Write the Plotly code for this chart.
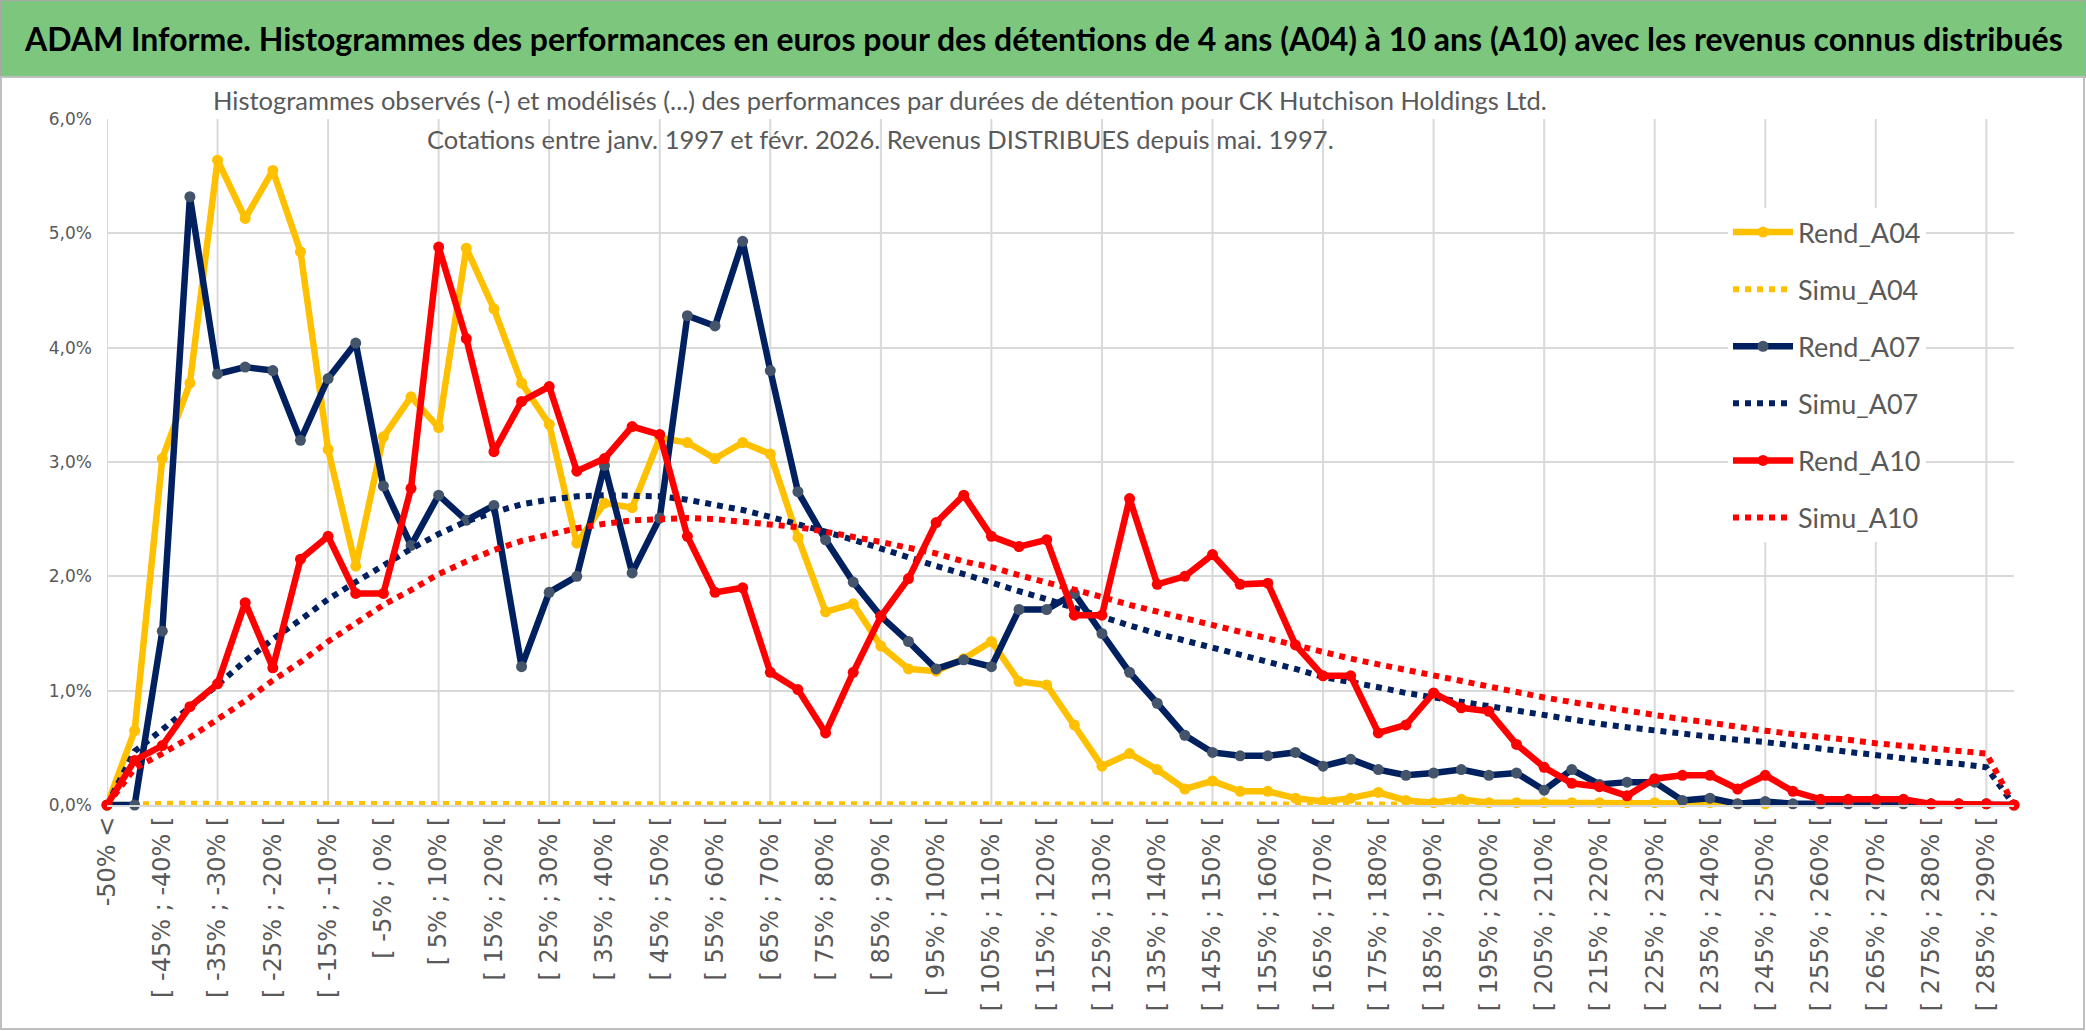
import plotly.graph_objects as go

categories = [
    "-50% <", "[ -50% ; -45% [", "[ -45% ; -40% [", "[ -40% ; -35% [", "[ -35% ; -30% [",
    "[ -30% ; -25% [", "[ -25% ; -20% [", "[ -20% ; -15% [", "[ -15% ; -10% [", "[ -10% ; -5% [",
    "[ -5% ; 0% [", "[ 0% ; 5% [", "[ 5% ; 10% [", "[ 10% ; 15% [", "[ 15% ; 20% [",
    "[ 20% ; 25% [", "[ 25% ; 30% [", "[ 30% ; 35% [", "[ 35% ; 40% [", "[ 40% ; 45% [",
    "[ 45% ; 50% [", "[ 50% ; 55% [", "[ 55% ; 60% [", "[ 60% ; 65% [", "[ 65% ; 70% [",
    "[ 70% ; 75% [", "[ 75% ; 80% [", "[ 80% ; 85% [", "[ 85% ; 90% [", "[ 90% ; 95% [",
    "[ 95% ; 100% [", "[ 100% ; 105% [", "[ 105% ; 110% [", "[ 110% ; 115% [", "[ 115% ; 120% [",
    "[ 120% ; 125% [", "[ 125% ; 130% [", "[ 130% ; 135% [", "[ 135% ; 140% [", "[ 140% ; 145% [",
    "[ 145% ; 150% [", "[ 150% ; 155% [", "[ 155% ; 160% [", "[ 160% ; 165% [", "[ 165% ; 170% [",
    "[ 170% ; 175% [", "[ 175% ; 180% [", "[ 180% ; 185% [", "[ 185% ; 190% [", "[ 190% ; 195% [",
    "[ 195% ; 200% [", "[ 200% ; 205% [", "[ 205% ; 210% [", "[ 210% ; 215% [", "[ 215% ; 220% [",
    "[ 220% ; 225% [", "[ 225% ; 230% [", "[ 230% ; 235% [", "[ 235% ; 240% [", "[ 240% ; 245% [",
    "[ 245% ; 250% [", "[ 250% ; 255% [", "[ 255% ; 260% [", "[ 260% ; 265% [", "[ 265% ; 270% [",
    "[ 270% ; 275% [", "[ 275% ; 280% [", "[ 280% ; 285% [", "[ 285% ; 290% [", "[ 290% ; 295% [",
]

rend_a04 = [0.00, 0.65, 3.03, 3.69, 5.64, 5.13, 5.55, 4.84, 3.11, 2.09,
            3.22, 3.57, 3.30, 4.87, 4.34, 3.69, 3.33, 2.29, 2.64, 2.60,
            3.21, 3.17, 3.03, 3.17, 3.07, 2.34, 1.69, 1.76, 1.39, 1.19,
            1.17, 1.28, 1.43, 1.08, 1.05, 0.70, 0.34, 0.45, 0.31, 0.14,
            0.21, 0.12, 0.12, 0.06, 0.03, 0.06, 0.11, 0.04, 0.02, 0.05,
            0.02, 0.02, 0.02, 0.02, 0.02, 0.02, 0.02, 0.02, 0.02, 0.01,
            0.01, None, None, None, None, None, None, None, None, None]

simu_a04 = [0.00, 0.01, 0.01, 0.01, 0.01, 0.01, 0.01, 0.01, 0.01, 0.01,
            0.01, 0.01, 0.01, 0.01, 0.01, 0.01, 0.01, 0.01, 0.01, 0.01,
            0.01, 0.01, 0.01, 0.01, 0.01, 0.01, 0.01, 0.01, 0.01, 0.01,
            0.01, 0.01, 0.01, 0.01, 0.01, 0.01, 0.01, 0.01, 0.01, 0.01,
            0.01, 0.01, 0.01, 0.01, 0.01, 0.01, 0.01, 0.01, 0.01, 0.01,
            0.01, 0.01, 0.01, 0.01, 0.01, 0.01, 0.01, 0.01, 0.01, 0.01,
            0.01, 0.01, 0.01, 0.01, 0.01, 0.01, 0.01, 0.01, 0.01, 0.00]

rend_a07 = [0.00, 0.00, 1.52, 5.32, 3.77, 3.83, 3.80, 3.19, 3.73, 4.04,
            2.79, 2.27, 2.71, 2.49, 2.62, 1.21, 1.86, 2.00, 2.97, 2.03,
            2.51, 4.28, 4.19, 4.93, 3.80, 2.74, 2.32, 1.95, 1.65, 1.43,
            1.19, 1.27, 1.21, 1.71, 1.71, 1.85, 1.50, 1.16, 0.89, 0.61,
            0.46, 0.43, 0.43, 0.46, 0.34, 0.40, 0.31, 0.26, 0.28, 0.31,
            0.26, 0.28, 0.13, 0.31, 0.18, 0.20, 0.20, 0.04, 0.06, 0.01,
            0.03, 0.01, 0.01, 0.01, 0.01, 0.01, 0.01, 0.01, 0.01, 0.00]

simu_a07 = [0.00, 0.47, 0.66, 0.85, 1.05, 1.26, 1.45, 1.62, 1.80, 1.95,
            2.10, 2.24, 2.37, 2.48, 2.56, 2.63, 2.67, 2.70, 2.71, 2.71,
            2.70, 2.67, 2.63, 2.58, 2.52, 2.46, 2.39, 2.32, 2.24, 2.16,
            2.09, 2.02, 1.94, 1.87, 1.80, 1.72, 1.65, 1.57, 1.50, 1.44,
            1.37, 1.31, 1.25, 1.19, 1.12, 1.08, 1.03, 0.98, 0.94, 0.90,
            0.86, 0.82, 0.78, 0.74, 0.71, 0.68, 0.65, 0.62, 0.59, 0.57,
            0.55, 0.52, 0.49, 0.47, 0.44, 0.41, 0.38, 0.36, 0.33, 0.00]

rend_a10 = [0.00, 0.39, 0.52, 0.86, 1.06, 1.77, 1.20, 2.15, 2.35, 1.85,
            1.85, 2.77, 4.88, 4.08, 3.09, 3.53, 3.66, 2.92, 3.03, 3.31,
            3.24, 2.35, 1.86, 1.90, 1.16, 1.01, 0.63, 1.16, 1.65, 1.98,
            2.47, 2.71, 2.35, 2.26, 2.32, 1.66, 1.66, 2.68, 1.93, 2.00,
            2.19, 1.93, 1.94, 1.40, 1.13, 1.13, 0.63, 0.70, 0.98, 0.85,
            0.82, 0.53, 0.33, 0.19, 0.16, 0.08, 0.23, 0.26, 0.26, 0.14,
            0.26, 0.12, 0.05, 0.05, 0.05, 0.05, 0.01, 0.01, 0.01, 0.00]

simu_a10 = [0.00, 0.32, 0.45, 0.59, 0.75, 0.91, 1.09, 1.25, 1.43, 1.59,
            1.75, 1.88, 2.02, 2.13, 2.23, 2.31, 2.37, 2.42, 2.46, 2.49,
            2.50, 2.51, 2.50, 2.48, 2.46, 2.43, 2.39, 2.35, 2.30, 2.25,
            2.20, 2.13, 2.08, 2.01, 1.95, 1.89, 1.82, 1.75, 1.69, 1.63,
            1.57, 1.51, 1.45, 1.39, 1.33, 1.28, 1.23, 1.18, 1.13, 1.08,
            1.03, 0.98, 0.94, 0.90, 0.86, 0.82, 0.78, 0.75, 0.72, 0.68,
            0.65, 0.62, 0.60, 0.57, 0.54, 0.52, 0.49, 0.47, 0.45, 0.00]

y_ticks = [0, 1, 2, 3, 4, 5, 6]
y_tick_labels = ["0,0%", "1,0%", "2,0%", "3,0%", "4,0%", "5,0%", "6,0%"]

W, H = 2086, 1031
L, R, T, B = 107, 72, 119, 226
PW, PH = W - L - R, H - T - B


def px(xp):
    return (xp - L) / PW


def py(yp):
    return (H - B - yp) / PH


YELLOW = "#FFC000"
NAVY = "#002060"
NAVY_MK = "#44546A"
RED = "#FF0000"
GRID = "#d9d9d9"
GRAY = "#595959"

idx = list(range(len(categories)))

fig = go.Figure()
series = [
    ("Rend_A04", rend_a04, YELLOW, YELLOW, True),
    ("Simu_A04", simu_a04, YELLOW, None, False),
    ("Rend_A07", rend_a07, NAVY, NAVY_MK, True),
    ("Simu_A07", simu_a07, NAVY, None, False),
    ("Rend_A10", rend_a10, RED, RED, True),
    ("Simu_A10", simu_a10, RED, None, False),
]
for name, vals, col, mcol, solid in series:
    if solid:
        fig.add_trace(go.Scatter(
            x=idx, y=vals, name=name, mode="lines+markers",
            line=dict(color=col, width=6.5),
            marker=dict(color=mcol, size=11, symbol="circle"),
            cliponaxis=False, legendgroup=name,
        ))
    else:
        fig.add_trace(go.Scatter(
            x=idx, y=vals, name=name, mode="lines",
            line=dict(color=col, width=6, dash="dot"),
            cliponaxis=False, legendgroup=name,
        ))

shapes = []
# vertical gridlines every 4 categories
for i in idx[::4]:
    shapes.append(dict(type="line", xref="x", yref="y", x0=i, x1=i, y0=0, y1=6,
                       line=dict(color=GRID, width=2), layer="below"))
# white box behind chart title
shapes.append(dict(type="rect", xref="paper", yref="paper",
                   x0=px(203), x1=px(1565), y0=py(160), y1=py(80),
                   fillcolor="white", line=dict(width=0), layer="between"))
# white box behind legend
shapes.append(dict(type="rect", xref="paper", yref="paper",
                   x0=px(1688), x1=px(1988), y0=py(550), y1=py(203),
                   fillcolor="white", line=dict(width=0), layer="between"))
# green title bar
shapes.append(dict(type="rect", xref="paper", yref="paper",
                   x0=px(0), x1=px(W), y0=py(77), y1=py(0),
                   fillcolor="#7dc67d", line=dict(color="#a6a6a6", width=2), layer="above"))
# outer frame
shapes.append(dict(type="rect", xref="paper", yref="paper",
                   x0=px(1), x1=px(W - 2), y0=py(H - 2), y1=py(77),
                   fillcolor="rgba(0,0,0,0)", line=dict(color="#bfbfbf", width=2), layer="above"))

annotations = [
    dict(text="<b>ADAM Informe. Histogrammes des performances en euros pour des détentions de 4 ans (A04) à 10 ans (A10) avec les revenus connus distribués</b>",
         xref="paper", yref="paper", x=px(W / 2), y=py(38), xanchor="center", yanchor="middle",
         showarrow=False, font=dict(family="Lato", size=32, color="black")),
    dict(text="Histogrammes observés (-) et modélisés (...) des performances par durées de détention pour CK Hutchison Holdings Ltd.",
         xref="paper", yref="paper", x=px(880), y=py(100), xanchor="center", yanchor="middle",
         showarrow=False, font=dict(family="Lato", size=25.5, color=GRAY)),
    dict(text="Cotations entre janv. 1997 et févr. 2026. Revenus DISTRIBUES depuis mai. 1997.",
         xref="paper", yref="paper", x=px(880), y=py(139), xanchor="center", yanchor="middle",
         showarrow=False, font=dict(family="Lato", size=25.5, color=GRAY)),
]

fig.update_layout(
    width=W, height=H, autosize=False,
    margin=dict(l=L, r=R, t=T, b=B, pad=0),
    paper_bgcolor="white", plot_bgcolor="white",
    separators=", ",
    shapes=shapes, annotations=annotations,
    showlegend=True,
    legend=dict(x=px(1728), y=py(208), xanchor="left", yanchor="top",
                bgcolor="white", borderwidth=0, itemwidth=60,
                tracegroupgap=19, traceorder="grouped",
                font=dict(family="Lato", size=27, color=GRAY)),
    xaxis=dict(range=[0, len(categories) - 1], tickmode="array",
               tickvals=idx[::2], ticktext=categories[::2], tickangle=-90,
               showgrid=False, zeroline=False, showline=True, linecolor=GRID, linewidth=2,
               ticks="", tickfont=dict(family="DejaVu Sans", size=24, color=GRAY)),
    yaxis=dict(range=[0, 6], tickmode="array", tickvals=y_ticks, ticktext=y_tick_labels,
               showgrid=True, gridcolor=GRID, gridwidth=2, zeroline=False, showline=False,
               ticks="", ticklabelstandoff=14,
               tickfont=dict(family="DejaVu Sans", size=17, color=GRAY)),
)

fig.write_html("out.html", config={"displayModeBar": False},
               post_script="document.body.style.margin='0';document.body.style.overflow='hidden';")
